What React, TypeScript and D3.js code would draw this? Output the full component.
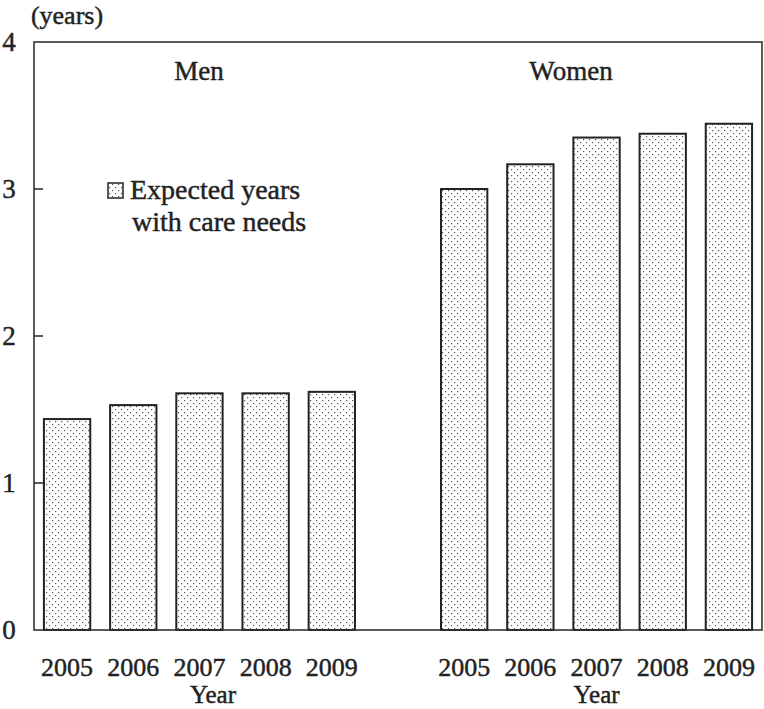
import React from "react";
import * as d3 from "d3";

const groups = ["Men", "Women"];
const years = ["2005", "2006", "2007", "2008", "2009"];
const menValues = [1.435, 1.53, 1.61, 1.61, 1.62];
const womenValues = [3.0, 3.168, 3.35, 3.376, 3.444];
const yTicks = [0, 1, 2, 3, 4];
const legendLines = ["Expected years", "with care needs"];
const unitLabel = "(years)";
const xTitle = "Year";

const W = 764;
const H = 709;
const left = 34, right = 762, top = 42, bottom = 630;
const FONT = "'Liberation Serif', 'DejaVu Serif', serif";
const INK = "#222";
const textStyle = { fill: INK, stroke: INK, strokeWidth: 0.45 };

export default function App() {
  const slots = [
    ...years.map((y) => "m" + y),
    "gap",
    ...years.map((y) => "w" + y),
  ];
  const x = d3.scaleBand<string>().domain(slots).range([left, right]).paddingInner(0.3).paddingOuter(0.15);
  const y = d3.scaleLinear().domain([0, 4]).range([bottom, top]);

  const bars = [
    ...years.map((yr, i) => ({ key: "m" + yr, year: yr, v: menValues[i] })),
    ...years.map((yr, i) => ({ key: "w" + yr, year: yr, v: womenValues[i] })),
  ];
  const bw = x.bandwidth();
  const cx = (k: string) => (x(k) as number) + bw / 2;

  return (
    <svg width={W} height={H} style={{ position: "absolute", left: 0, top: 0, background: "#fff" }} fontFamily={FONT}>
      <defs>
        <pattern id="dots" width={6} height={6} patternUnits="userSpaceOnUse">
          <rect width={6} height={6} fill="#fff" />
          <rect x={1} y={1} width={1.2} height={1.2} fill="#555" />
          <rect x={4} y={4} width={1.2} height={1.2} fill="#555" />
        </pattern>
      </defs>

      {bars.map((b) => (
        <rect
          key={b.key}
          x={x(b.key)}
          y={y(b.v)}
          width={bw}
          height={y(0) - y(b.v)}
          fill="url(#dots)"
          stroke={INK}
          strokeWidth={2}
        />
      ))}

      <rect x={left} y={top} width={right - left} height={bottom - top} fill="none" stroke="#333" strokeWidth={1.6} />

      {yTicks.map((t) => (
        <g key={t}>
          {t > 0 && t < 4 && (
            <line x1={left} x2={left + 9} y1={y(t)} y2={y(t)} stroke="#333" strokeWidth={1.6} />
          )}
          <text x={9} y={y(t)} dy="0.35em" textAnchor="middle" fontSize={27} {...textStyle}>
            {t}
          </text>
        </g>
      ))}

      <text x={67} y={24} textAnchor="middle" fontSize={26} {...textStyle}>{unitLabel}</text>

      {bars.map((b) => (
        <text key={"l" + b.key} x={cx(b.key)} y={676} textAnchor="middle" fontSize={26} {...textStyle}>
          {b.year}
        </text>
      ))}

      <text x={213} y={703} textAnchor="middle" fontSize={25} {...textStyle}>{xTitle}</text>
      <text x={cx("w2007")} y={703} textAnchor="middle" fontSize={25} {...textStyle}>{xTitle}</text>

      <text x={199} y={80} textAnchor="middle" fontSize={27} {...textStyle}>{groups[0]}</text>
      <text x={571} y={80} textAnchor="middle" fontSize={27} {...textStyle}>{groups[1]}</text>

      <rect x={108} y={183} width={15} height={15} fill="url(#dots)" stroke={INK} strokeWidth={1.5} />
      {legendLines.map((l, i) => (
        <text key={l} x={i === 0 ? 130 : 132} y={199 + i * 32} fontSize={28} {...textStyle}>
          {l}
        </text>
      ))}
    </svg>
  );
}
